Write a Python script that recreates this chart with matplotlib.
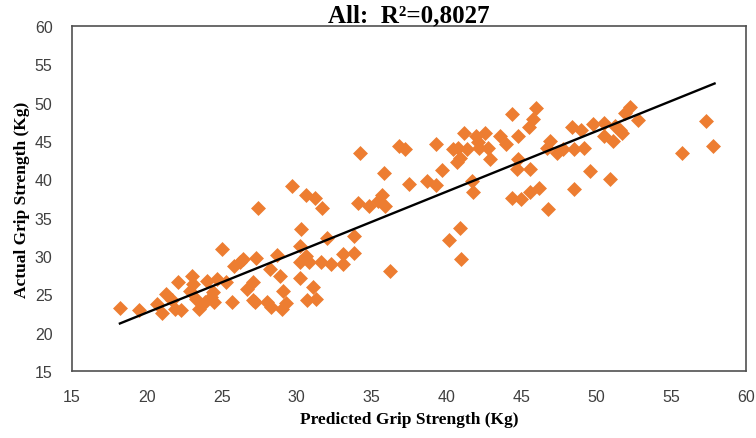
import matplotlib
matplotlib.use("Agg")
import matplotlib.pyplot as plt

# predicted vs actual grip strength (Kg)
predicted = [
    18.2, 19.5, 20.65, 21.0, 21.3, 21.65, 22.1, 21.9, 22.3, 23.0, 23.1, 22.9, 23.3, 23.5,
    24.0, 23.9, 24.3, 24.7, 24.4, 24.5, 25.0, 25.3, 25.7, 25.8, 26.2, 26.4, 26.7, 27.1,
    27.4, 27.3, 27.1,
    29.7, 30.6, 31.2, 31.7, 34.2, 35.8, 34.1, 34.8, 35.4, 35.7, 35.9, 36.8, 37.2, 37.5,
    30.3, 32.0, 33.8, 30.2, 28.7, 30.6, 30.8, 30.2, 31.6, 32.3, 33.1, 33.1, 33.8, 36.2,
    28.2, 28.9, 30.2, 29.1, 31.1, 27.2, 28.0, 29.3, 29.0, 30.7, 31.3, 28.3,
    39.3, 38.7, 39.3, 39.7, 40.9, 40.2, 41.0, 41.2, 40.45, 40.8, 40.7, 40.9, 41.35, 42.0,
    42.6, 42.2, 42.8, 42.9, 41.7, 41.8, 43.6, 44.0, 44.35, 44.8, 44.8, 44.7, 45.6, 44.35,
    45.0, 45.6, 46.2, 45.5, 45.8, 46.0, 46.8, 46.9, 47.35, 46.7, 42.1,
    47.8, 48.5, 49.2, 48.4, 49.0, 49.8, 50.5, 50.5, 51.1, 51.25, 51.6, 51.7, 51.9, 52.25,
    52.8, 49.6, 48.5, 50.9, 57.3, 55.7, 57.8,
]
actual = [
    23.2, 22.9, 23.7, 22.6, 25.0, 24.2, 26.6, 23.1, 22.9, 27.4, 26.3, 25.5, 24.4, 23.1,
    26.8, 24.0, 24.6, 27.0, 25.3, 24.0, 30.9, 26.6, 24.0, 28.7, 29.2, 29.6, 25.7, 24.2,
    36.3, 29.8, 26.6,
    39.1, 38.0, 37.6, 36.3, 43.4, 40.8, 36.9, 36.5, 37.2, 37.9, 36.5, 44.3, 43.9, 39.4,
    33.5, 32.4, 32.6, 31.3, 30.1, 30.0, 29.2, 29.2, 29.2, 29.0, 29.0, 30.3, 30.4, 28.1,
    28.3, 27.4, 27.1, 25.5, 26.0, 24.0, 24.0, 23.9, 23.1, 24.2, 24.4, 23.3,
    44.6, 39.8, 39.2, 41.2, 33.7, 32.1, 29.6, 46.0, 43.9, 44.1, 42.2, 42.8, 43.9, 45.7,
    46.1, 44.1, 44.1, 42.6, 39.8, 38.3, 45.7, 44.6, 48.5, 45.7, 42.6, 41.3, 41.3, 37.6,
    37.4, 38.3, 38.9, 46.8, 47.9, 49.3, 36.1, 45.0, 43.5, 44.1, 44.9,
    43.9, 43.9, 44.1, 46.8, 46.4, 47.2, 47.4, 45.7, 45.0, 47.0, 46.5, 46.1, 48.7, 49.4,
    47.7, 41.1, 38.7, 40.0, 47.6, 43.5, 44.4,
]

# trend line end points
trend_x = [18.2, 57.9]
trend_y = [21.2, 52.5]

x_ticks = [15, 20, 25, 30, 35, 40, 45, 50, 55, 60]
y_ticks = [15, 20, 25, 30, 35, 40, 45, 50, 55, 60]

fig = plt.figure(figsize=(7.56, 4.39), dpi=100)
ax = fig.add_axes([0.0952, 0.1526, 0.8916, 0.7859])

ax.scatter(predicted, actual, marker='D', s=58, color='#ED7D31', linewidths=0, zorder=2)
ax.plot(trend_x, trend_y, color='black', lw=1.7, zorder=3)

ax.set_xlim(15, 60)
ax.set_ylim(15, 60)
ax.set_xticks(x_ticks)
ax.set_yticks(y_ticks)

for side in ['left', 'right', 'top', 'bottom']:
    ax.spines[side].set_color('#505050')
    ax.spines[side].set_linewidth(1.2)

ax.tick_params(axis='x', length=0, pad=13, labelsize=11.5, labelcolor='#404040')
ax.tick_params(axis='y', length=0, pad=14, labelsize=11.5, labelcolor='#404040')
for lbl in ax.get_xticklabels() + ax.get_yticklabels():
    lbl.set_family('Liberation Sans')

ax.set_title('All:  R²=0,8027', family='Liberation Serif', fontweight='bold',
             fontsize=18, pad=2)
ax.set_xlabel('Predicted Grip Strength (Kg)', family='Liberation Serif',
              fontweight='bold', fontsize=12.5, labelpad=5)
ax.set_ylabel('Actual Grip Strength (Kg)', family='Liberation Serif',
              fontweight='bold', fontsize=12.5, labelpad=3)

fig.savefig('out.png', dpi=100)
